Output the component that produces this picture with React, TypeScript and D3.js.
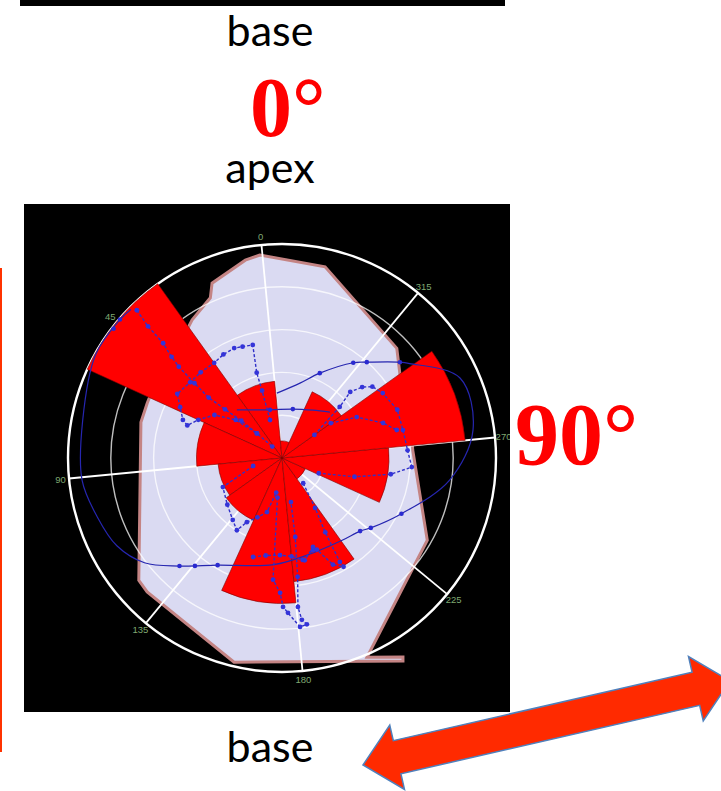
import React from 'react';
import * as d3 from 'd3';

// ---- rose diagram: 12 sectors of 30°, counts per sector ----
const sectorStart = [0, 30, 60, 90, 120, 150, 180, 210, 240, 270, 300, 330];
const sectorCount = [18, 50, 20, 15, 16, 34, 29, 6, 25, 43, 17, 4];
const sectorWidth = 30;

// ---- polar grid ----
const ringValues = [10, 20, 30, 40];
const outerValue = 50;
const labelValue = 52;
const spokeAngles = [0, 45, 90, 135, 180, 225, 270, 315];
const spokeLabels = ['0', '45', '90', '135', '180', '225', '270', '315'];

// ---- envelope polygon [angle°, radius] ----
const envelope: [number, number][] = [
  [0.7, 47.7], [5, 47], [16.3, 44], [18.6, 41], [27.6, 38.5], [40, 35], [52, 34.6],
  [62.3, 34], [70.3, 34], [125, 44], [129.3, 44.4], [161.3, 49], [205.3, 55.2],
  [205.8, 54.4], [197.6, 50.6], [235, 39], [268, 30.6], [285, 32], [298.6, 33.4],
  [308.2, 37.1], [341.8, 45.8],
];

// ---- traced orientation curves [angle°, radius] ----
const outerTrace: [number, number][] = [
  [40, 49.5], [44, 49.8], [55.5, 49.8], [73.7, 47.4], [90.8, 47.0], [102.2, 45.3],
  [112.5, 43.7], [121.8, 40.4], [131, 34.8], [143.5, 29.2], [170, 25.0], [190, 23.4],
  [210.7, 23.8], [221.4, 25.0], [226.3, 26.4], [239.5, 30.8], [257, 39.5], [272.8, 45.1],
  [288.7, 45.6], [301, 37.1], [303.6, 35.5], [313, 29.9], [317.7, 27.8], [330.5, 21.7],
  [341, 18.0], [359, 15.2],
];
const outerTraceDots: [number, number][] = [
  [44, 49.8], [47, 49.6], [131, 34.8], [135.6, 32.4], [143.5, 29.2], [221.4, 25.0],
  [226.3, 26.4], [239.5, 30.8], [303.6, 35.5], [313, 29.9], [317.7, 27.8], [330.5, 21.7],
];
const innerTrace: [number, number][] = [
  [37.7, 15.4], [8.5, 11.6], [342, 11.7], [321.6, 13.3], [308.3, 15.5],
];
const innerTraceDots: [number, number][] = [[8.5, 11.6], [342, 11.7]];

const lobeUpperLeft: [number, number][] = [
  [12, 9.3], [11, 16.4], [11, 20.8], [9, 27.3], [14, 27.6], [18, 28.0], [24, 27.8],
  [30, 27.3], [38, 27.6], [45, 27.8], [53, 28.7], [58, 26.6], [63.5, 24.8], [65.5, 23.4],
  [60, 21.5], [52, 18.7], [45, 14.0], [40, 8.2],
];
const lobeDiagonal: [number, number][] = [
  [39, 48.4], [40, 43.9], [40.5, 38.6], [42, 35.0], [43, 32.2], [44, 26.9], [45, 22.2],
  [44, 17.5], [42, 12.9], [40, 8.2], [35, 3.5],
];
const lobeLowerLeft: [number, number][] = [
  [100, 7.0], [110.7, 15.4], [125, 16.8], [136, 18.5], [142.5, 19.9], [145.8, 17.1],
  [152, 15.0], [159, 13.1], [165, 8.2],
];
const lobeBottom: [number, number][] = [
  [168, 9.3], [170.3, 28.5], [173.7, 31.5], [174.9, 34.8], [176.7, 36.2], [180.6, 39.7],
  [183, 39.3], [181.5, 38.1], [180.6, 35.0], [182, 28.0], [184, 18.7], [186, 10.5],
];
const lobeBottomCross: [number, number][] = [
  [158.2, 24.1], [165, 23.1], [173.3, 22.7], [180, 23.1], [186, 24.3], [193, 22.7],
];
const lobeLowerRight: [number, number][] = [
  [214.5, 7.7], [208, 14.0], [204.7, 20.1], [203.6, 27.8], [204, 29.2], [200, 27.6],
  [195.3, 22.9], [193.7, 22.0], [187, 24.5],
];
const lobeRight: [number, number][] = [
  [300, 9.3], [306, 18.0], [308.6, 22.2], [306, 25.0], [302.8, 26.9], [297.3, 28.0],
  [287.2, 29.2], [277.5, 29.0], [268, 29.4], [260.5, 30.4], [256, 25.7], [250, 17.5],
  [242, 9.3],
];
const lobeRightInner: [number, number][] = [
  [300, 14.0], [293.2, 19.9], [283.6, 25.0], [278.2, 27.6],
];
const dottedLobes = [
  lobeUpperLeft, lobeDiagonal, lobeLowerLeft, lobeBottom, lobeBottomCross,
  lobeLowerRight, lobeRight, lobeRightInner,
];

// ---- layout ----
const W = 721;
const H = 791;
const panel = { x: 24, y: 204, w: 486, h: 508 };
const cx = 282;
const cy = 458;
const R = 214;
const ROT = (5.5 * Math.PI) / 180;

const angle = d3.scaleLinear().domain([0, 360]).range([-ROT, -ROT - 2 * Math.PI]);
const radius = d3.scaleLinear().domain([0, outerValue]).range([0, R]);

const px = (a: number, v: number): [number, number] => {
  const t = angle(a);
  const r = radius(v);
  return [r * Math.sin(t), -r * Math.cos(t)];
};

const radial = (curve: d3.CurveFactory | d3.CurveFactoryLineOnly) =>
  d3
    .lineRadial<[number, number]>()
    .angle((d) => angle(d[0]))
    .radius((d) => radius(d[1]))
    .curve(curve as any);

const arcGen = d3.arc<any>();

// double-headed block arrow
const arrowA: [number, number] = [363, 765];
const arrowB: [number, number] = [730, 681];
const headLen = 35;
const headHalf = 33;
const shaftHalf = 17;

function arrowPath(): string {
  const dx = arrowB[0] - arrowA[0];
  const dy = arrowB[1] - arrowA[1];
  const len = Math.hypot(dx, dy);
  const ux = dx / len;
  const uy = dy / len;
  const nx = -uy;
  const ny = ux;
  const p = (u: number, v: number) => [arrowA[0] + ux * u + nx * v, arrowA[1] + uy * u + ny * v];
  const pts = [
    p(0, 0),
    p(headLen, -headHalf),
    p(headLen, -shaftHalf),
    p(len - headLen, -shaftHalf),
    p(len - headLen, -headHalf),
    p(len, 0),
    p(len - headLen, headHalf),
    p(len - headLen, shaftHalf),
    p(headLen, shaftHalf),
    p(headLen, headHalf),
  ];
  return 'M' + pts.map((q) => q.join(',')).join('L') + 'Z';
}

const sans = 'Lato, "Open Sans", sans-serif';
const serif = '"Liberation Serif", "Times New Roman", serif';

export default function App() {
  return (
    <svg
      width={W}
      height={H}
      viewBox={`0 0 ${W} ${H}`}
      style={{ position: 'absolute', left: 0, top: 0, background: '#ffffff' }}
    >
      <defs>
        <clipPath id="panelClip">
          <rect x={panel.x} y={panel.y} width={panel.w} height={panel.h} />
        </clipPath>
      </defs>

      {/* top bar and side rule */}
      <rect x={20} y={0} width={485} height={6} fill="#000" />
      <rect x={0} y={268} width={2} height={484} fill="#ff3300" />

      <text x={270} y={46} textAnchor="middle" fontFamily={sans} fontSize={43} fill="#000">
        base
      </text>
      <text x={250} y={136} fontFamily={serif} fontWeight="bold" fontSize={84} fill="#ff0000">
        0°
      </text>
      <text x={270} y={183} textAnchor="middle" fontFamily={sans} fontSize={43} fill="#000">
        apex
      </text>
      <text x={270} y={762} textAnchor="middle" fontFamily={sans} fontSize={43} fill="#000">
        base
      </text>
      <text x={515} y={464} fontFamily={serif} fontWeight="bold" fontSize={88} fill="#ff0000">
        90°
      </text>

      {/* polar panel */}
      <rect x={panel.x} y={panel.y} width={panel.w} height={panel.h} fill="#000" />
      <g clipPath="url(#panelClip)">
        <g transform={`translate(${cx},${cy})`}>
          <path
            d={radial(d3.curveLinearClosed)(envelope) || ''}
            fill="#dadaf2"
            stroke="#c48484"
            strokeWidth={3}
            strokeLinejoin="miter"
          />

          {ringValues.map((v) => (
            <circle key={v} r={radius(v)} fill="none" stroke="#ffffff" strokeOpacity={0.75} strokeWidth={1.4} />
          ))}
          <circle r={radius(outerValue)} fill="none" stroke="#ffffff" strokeWidth={2.4} />
          {spokeAngles.map((a) => {
            const [x, y] = px(a, outerValue);
            return <line key={a} x1={0} y1={0} x2={x} y2={y} stroke="#ffffff" strokeWidth={1.8} />;
          })}

          {sectorStart.map((s, i) => (
            <path
              key={s}
              d={
                arcGen({
                  innerRadius: 0,
                  outerRadius: radius(sectorCount[i]),
                  startAngle: angle(s + sectorWidth),
                  endAngle: angle(s),
                }) || ''
              }
              fill="#ff0000"
              stroke="#7a0000"
              strokeWidth={0.6}
            />
          ))}

          <path
            d={radial(d3.curveCatmullRom)(outerTrace) || ''}
            fill="none"
            stroke="#2626b0"
            strokeWidth={1.2}
          />
          <path
            d={radial(d3.curveCatmullRom)(innerTrace) || ''}
            fill="none"
            stroke="#2626b0"
            strokeWidth={1.2}
          />
          {[...outerTraceDots, ...innerTraceDots].map((d, i) => {
            const [x, y] = px(d[0], d[1]);
            return <circle key={'od' + i} cx={x} cy={y} r={2.3} fill="#2a2ad0" />;
          })}

          {dottedLobes.map((lobe, li) => (
            <g key={'lobe' + li}>
              <path
                d={radial(d3.curveLinear)(lobe) || ''}
                fill="none"
                stroke="#3030c8"
                strokeWidth={1.4}
                strokeDasharray="3 2"
              />
              {lobe.map((d, i) => {
                const [x, y] = px(d[0], d[1]);
                return <circle key={i} cx={x} cy={y} r={2.4} fill="#3434d8" />;
              })}
            </g>
          ))}

          {spokeAngles.map((a, i) => {
            const [x, y] = px(a, labelValue);
            return (
              <text
                key={'lab' + a}
                x={x}
                y={y}
                dy="0.35em"
                textAnchor="middle"
                fontFamily='"Liberation Sans", Arial, sans-serif'
                fontSize={9.5}
                fill="#7fa872"
              >
                {spokeLabels[i]}
              </text>
            );
          })}
        </g>
      </g>

      {/* orientation arrow */}
      <path d={arrowPath()} fill="#ff2a00" stroke="#4f81bd" strokeWidth={1.5} strokeLinejoin="miter" />
    </svg>
  );
}
